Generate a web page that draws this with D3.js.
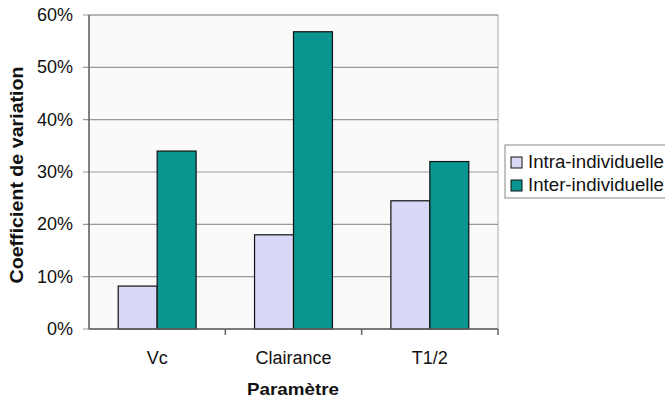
<!DOCTYPE html>
<html>
<head>
<meta charset="utf-8">
<script src="https://cdn.jsdelivr.net/npm/d3@7"></script>
<style>
  body { margin: 0; background: #fff; }
  text { font-family: "Liberation Sans", Arial, sans-serif; fill: #111; }
  .title { font-weight: bold; }
</style>
</head>
<body>
<svg id="chart" width="665" height="401"></svg>
<script>
// DATA
var categories = ["Vc", "Clairance", "T1/2"];
var seriesNames = ["Intra-individuelle", "Inter-individuelle"];
var intraValues = [0.082, 0.18, 0.245];
var interValues = [0.34, 0.568, 0.32];
var yTicks = [0, 0.1, 0.2, 0.3, 0.4, 0.5, 0.6];

var colors = ["#d9d9f7", "#0b9591"];

// PLOT AREA
var plotLeft = 89, plotRight = 498, plotTop = 15, plotBottom = 329;

var svg = d3.select("#chart");

var x = d3.scaleBand().domain(categories).range([plotLeft, plotRight]);
var y = d3.scaleLinear().domain([0, 0.6]).range([plotBottom, plotTop]);

// bars: gap width 150% like excel
var barW = x.bandwidth() / 3.5;

svg.append("rect")
  .attr("x", plotLeft).attr("y", plotTop)
  .attr("width", plotRight - plotLeft).attr("height", plotBottom - plotTop)
  .attr("fill", "#fafafa")
  .attr("stroke", "#aaa");

// gridlines
svg.append("g")
  .selectAll("line")
  .data(yTicks)
  .enter().append("line")
  .attr("x1", plotLeft - 6).attr("x2", plotRight)
  .attr("y1", d => y(d)).attr("y2", d => y(d))
  .attr("stroke", "#999").attr("stroke-width", 1.2);

var data = categories.map((c, i) => ({cat: c, vals: [intraValues[i], interValues[i]]}));

var groups = svg.selectAll("g.grp")
  .data(data)
  .enter().append("g")
  .attr("class", "grp");

groups.selectAll("rect")
  .data(d => d.vals.map((v, j) => ({cat: d.cat, v: v, j: j})))
  .enter().append("rect")
  .attr("x", d => x(d.cat) + x.bandwidth() / 2 - barW + d.j * barW)
  .attr("y", d => y(d.v))
  .attr("width", barW)
  .attr("height", d => plotBottom - y(d.v))
  .attr("fill", d => colors[d.j])
  .attr("stroke", "#111").attr("stroke-width", 1.2);

// y axis
svg.append("line")
  .attr("x1", plotLeft).attr("x2", plotLeft).attr("y1", plotTop).attr("y2", plotBottom)
  .attr("stroke", "#666").attr("stroke-width", 1.5);

svg.append("g")
  .selectAll("text")
  .data(yTicks)
  .enter().append("text")
  .attr("x", 73).attr("y", d => y(d) + 6)
  .attr("text-anchor", "end")
  .style("font-size", "18px")
  .text(d3.format(".0%"));

// x axis
svg.append("line")
  .attr("x1", plotLeft).attr("x2", plotRight).attr("y1", plotBottom).attr("y2", plotBottom)
  .attr("stroke", "#666").attr("stroke-width", 1.5);

svg.append("g")
  .selectAll("line")
  .data(categories)
  .enter().append("line")
  .attr("x1", d => x(d) + x.step())
  .attr("x2", d => x(d) + x.step())
  .attr("y1", plotBottom).attr("y2", plotBottom + 6)
  .attr("stroke", "#666").attr("stroke-width", 1.5);

svg.append("g")
  .selectAll("text")
  .data(categories)
  .enter().append("text")
  .attr("x", d => x(d) + x.bandwidth() / 2)
  .attr("y", 364)
  .attr("text-anchor", "middle")
  .style("font-size", "18px")
  .text(d => d);

// axis titles (reference text is stretched a bit)
svg.append("text")
  .attr("class", "title")
  .attr("x", 293).attr("y", 395)
  .attr("text-anchor", "middle")
  .attr("textLength", 92).attr("lengthAdjust", "spacingAndGlyphs")
  .style("font-size", "17px")
  .text("Paramètre");

svg.append("text")
  .attr("class", "title")
  .attr("transform", "translate(23,175) rotate(-90)")
  .attr("text-anchor", "middle")
  .attr("textLength", 217).attr("lengthAdjust", "spacingAndGlyphs")
  .style("font-size", "18px")
  .text("Coefficient de variation");

// legend
var legend = svg.append("g");
legend.append("rect")
  .attr("x", 505).attr("y", 145)
  .attr("width", 170).attr("height", 53)
  .attr("fill", "#fff").attr("stroke", "#888");

var items = legend.selectAll("g.item")
  .data(seriesNames)
  .enter().append("g")
  .attr("class", "item")
  .attr("transform", (d, i) => "translate(511," + (157 + i * 23) + ")");

items.append("rect")
  .attr("width", 11).attr("height", 11)
  .attr("fill", (d, i) => colors[i])
  .attr("stroke", "#111");

items.append("text")
  .attr("x", 17).attr("y", 11)
  .attr("textLength", 136).attr("lengthAdjust", "spacingAndGlyphs")
  .style("font-size", "18px")
  .text(d => d);
</script>
</body>
</html>
